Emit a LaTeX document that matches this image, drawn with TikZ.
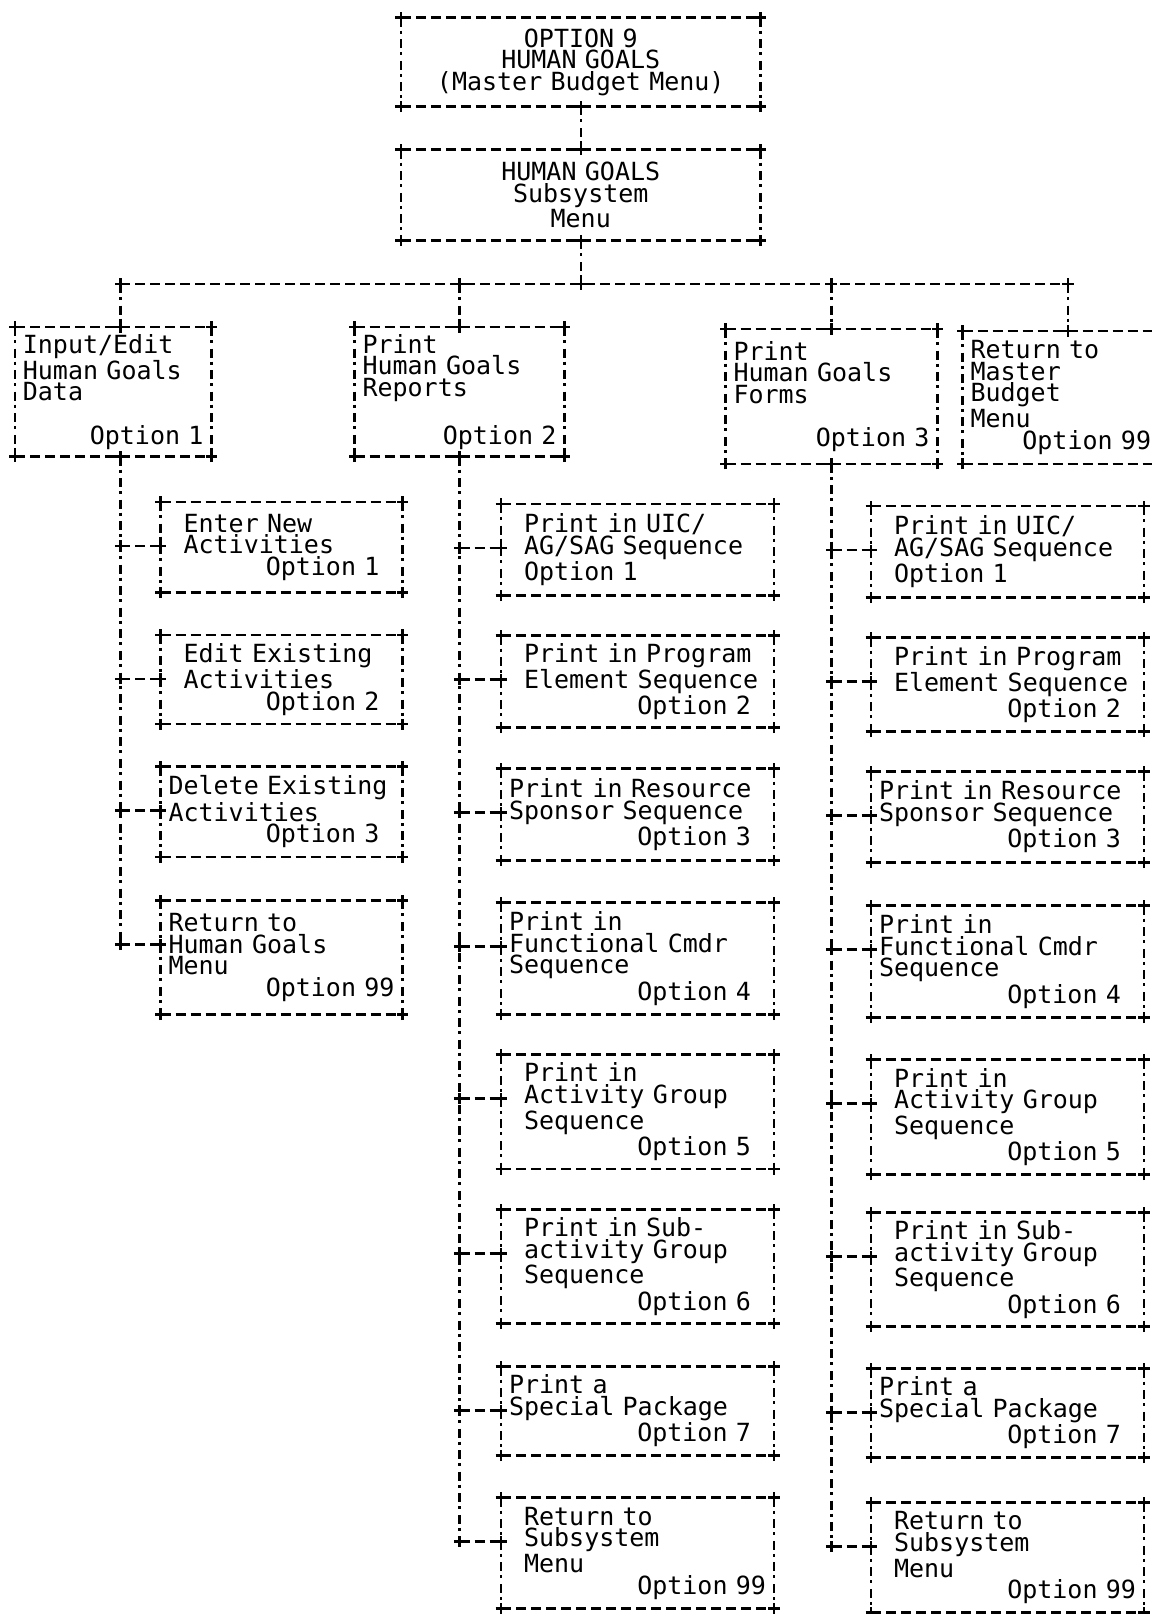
\documentclass[tikz,border=0pt]{standalone}
\usepackage{fontspec}
\newfontfamily\lpfont{DejaVu Sans Mono}[WordSpace={1,0,0}]
\newcommand\pad{\phantom{0}}
\newcommand\optr[1]{\hspace*{\fill}Option #1}
\newcommand\plusat[1]{\draw[plusmark] (#1) ++(-2.8pt,0pt) -- ++(5.6pt,0pt) (#1) ++(0pt,-2.8pt) -- ++(0pt,5.6pt);}

\begin{document}
\begin{tikzpicture}[x=0.5pt,y=-0.5pt,
  hdash/.style={line width=1.2pt,dash pattern=on 5pt off 2.5pt},
  vdash/.style={line width=1.2pt,dash pattern=on 4.5pt off 2pt on 1.5pt off 2.8pt},
  plusmark/.style={line width=1.2pt},
  menubox/.style={inner xsep=3.75pt,inner ysep=0pt,align=left,
    font=\lpfont\fontsize{12.5pt}{10.8pt}\selectfont},
  headbox/.style={menubox,text width=172pt,align=center},
  col1/.style={menubox,text width=113pt},
  col2/.style={menubox,text width=128.5pt}]
  \useasboundingbox (0,0) rectangle (1152,1614);

  % top of the menu tree
  \node[headbox,minimum height=44pt] (goal) at (580.75,62) {OPTION 9\\HUMAN GOALS\\(Master Budget Menu)};
  \node[headbox,minimum height=45pt] (subm) at (580.75,195) {HUMAN GOALS\\Subsystem\\Menu};

  % first level
  \node[menubox,text width=90.3pt,minimum height=64.4pt] (input) at (113.2,391.7)
    {Input/Edit\\Human Goals\\Data\\[10.8pt]\optr{1}};
  \node[menubox,text width=97pt,minimum height=64.4pt] (report) at (459.5,391.7)
    {Print\\Human Goals\\Reports\\[10.8pt]\optr{2}};
  \node[menubox,text width=98pt,minimum height=67pt] (forms) at (831.5,396.4)
    {Print\\Human Goals\\Forms\\[10.8pt]\optr{3}};
  \node[menubox,text width=90.3pt,minimum height=66pt] (retmb) at (1060.8,397.4)
    {Return to\\Master\\Budget\\Menu\\\optr{99}};

  % input/edit options
  \node[col1,minimum height=44.8pt] (i1) at (281.5,547.2) {\pad Enter New\\\pad Activities\\\optr{1}\pad};
  \node[col1,minimum height=44.3pt] (i2) at (281.5,679.5) {\pad Edit Existing\\\pad Activities\\\optr{2}\pad};
  \node[col1,minimum height=44.8pt] (i3) at (281.5,811.8) {Delete Existing\\Activities\\\optr{3}\pad};
  \node[col1,minimum height=56.6pt] (i4) at (281.5,957.4) {Return to\\Human Goals\\Menu\\\optr{99}};

  % report options
  \node[col2,minimum height=45.3pt] (r1) at (637.5,549.7) {\pad Print in UIC/\\\pad AG/SAG Sequence\\\pad Option 1};
  \node[col2,minimum height=45.5pt] (r2) at (637.5,681.5) {\pad Print in Program\\\pad Element Sequence\\\optr{2}\pad};
  \node[col2,minimum height=45.5pt] (r3) at (637.5,814.5) {Print in Resource\\Sponsor Sequence\\\optr{3}\pad};
  \node[col2,minimum height=55.5pt] (r4) at (637.5,958.5) {Print in\\Functional Cmdr\\Sequence\\\optr{4}\pad};
  \node[col2,minimum height=56.8pt] (r5) at (637.5,1111.8) {\pad Print in\\\pad Activity Group\\\pad Sequence\\\optr{5}\pad};
  \node[col2,minimum height=56.5pt] (r6) at (637.5,1266.5) {\pad Print in Sub-\\\pad activity Group\\\pad Sequence\\\optr{6}\pad};
  \node[col2,minimum height=44pt] (r7) at (637.5,1411) {Print a\\Special Package\\\optr{7}\pad};
  \node[col2,minimum height=55pt] (r8) at (637.5,1553) {\pad Return to\\\pad Subsystem\\\pad Menu\\\optr{99}};

  % form options
  \node[col2,minimum height=45.3pt] (f1) at (1007.5,551.8) {\pad Print in UIC/\\\pad AG/SAG Sequence\\\pad Option 1};
  \node[col2,minimum height=46.5pt] (f2) at (1007.5,684.5) {\pad Print in Program\\\pad Element Sequence\\\optr{2}\pad};
  \node[col2,minimum height=45pt] (f3) at (1007.5,817) {Print in Resource\\Sponsor Sequence\\\optr{3}\pad};
  \node[col2,minimum height=55.5pt] (f4) at (1007.5,961.5) {Print in\\Functional Cmdr\\Sequence\\\optr{4}\pad};
  \node[col2,minimum height=57pt] (f5) at (1007.5,1117) {\pad Print in\\\pad Activity Group\\\pad Sequence\\\optr{5}\pad};
  \node[col2,minimum height=56.5pt] (f6) at (1007.5,1269.5) {\pad Print in Sub-\\\pad activity Group\\\pad Sequence\\\optr{6}\pad};
  \node[col2,minimum height=44pt] (f7) at (1007.5,1413) {Print a\\Special Package\\\optr{7}\pad};
  \node[col2,minimum height=54.5pt] (f8) at (1007.5,1557.5) {\pad Return to\\\pad Subsystem\\\pad Menu\\\optr{99}};

  % printer-style frames
  \foreach \n in {goal,subm,input,report,forms,retmb,i1,i2,i3,i4,
                  r1,r2,r3,r4,r5,r6,r7,r8,f1,f2,f3,f4,f5,f6,f7,f8} {
    \draw[hdash] (\n.north west) -- (\n.north east) (\n.south west) -- (\n.south east);
    \draw[vdash] (\n.north west) -- (\n.south west) (\n.north east) -- (\n.south east);
    \foreach \a in {north west,north east,south west,south east}
      \plusat{\n.\a};
  }

  % trunk and bus
  \coordinate (bus) at (580.75,284);
  \coordinate (input-t) at ([xshift=3.6pt]input.north);
  \coordinate (input-b) at ([xshift=3.6pt]input.south);
  \coordinate (retmb-t) at ([xshift=3.6pt]retmb.north);
  \draw[vdash] (goal.south) -- (subm.north);
  \draw[vdash] (subm.south) -- (bus);
  \draw[hdash] (input-t |- bus) -- (retmb-t |- bus);
  \foreach \p in {goal.south,subm.north,subm.south,bus}
    \plusat{\p};
  \foreach \t in {input-t,report.north,forms.north,retmb-t} {
    \draw[vdash] (\t |- bus) -- (\t);
    \plusat{\t |- bus}
    \plusat{\t}
  }

  % branches to the option boxes
  \foreach \s/\c/\k in {input-b/i/4,report.south/r/8,forms.south/f/8} {
    \plusat{\s}
    \foreach \j in {1,...,\k}
      \coordinate (\c\j-in) at ([yshift=-22pt]\c\j.north west);
    \draw[vdash] (\s) -- (\s |- \c\k-in);
    \foreach \j in {1,...,\k} {
      \draw[hdash] (\s |- \c\j-in) -- (\c\j-in);
      \plusat{\s |- \c\j-in}
      \plusat{\c\j-in}
    }
  }
\end{tikzpicture}
\end{document}
